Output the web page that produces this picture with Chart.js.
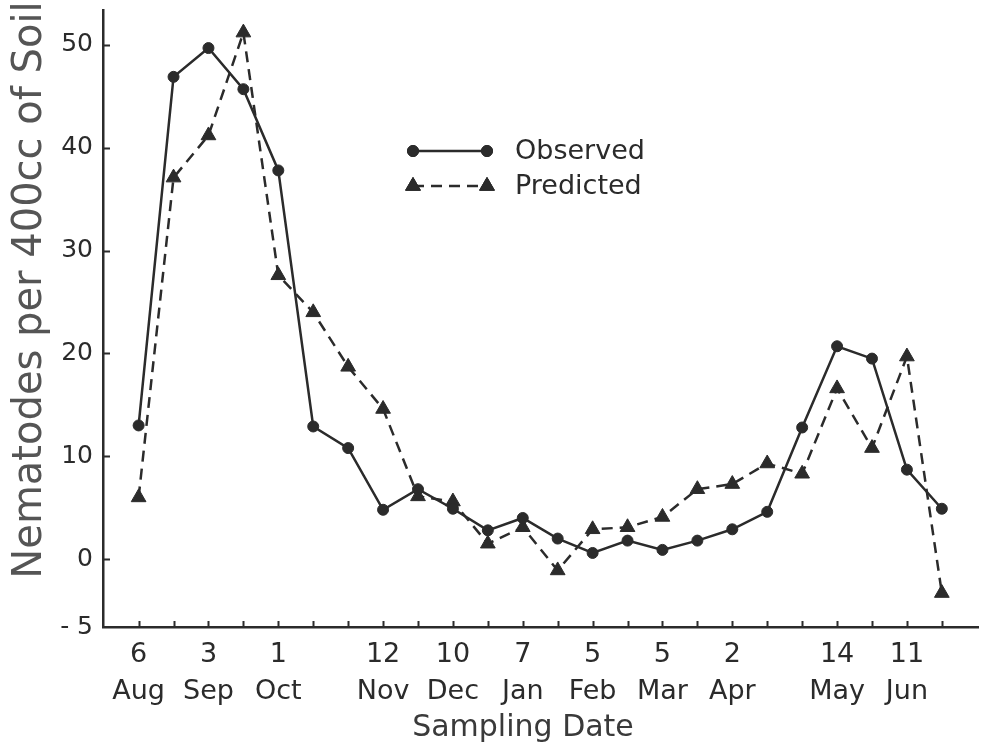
<!DOCTYPE html>
<html>
<head>
<meta charset="utf-8">
<script src="https://cdn.jsdelivr.net/npm/chart.js@4.4.1/dist/chart.umd.min.js"></script>
<style>
  html, body { margin: 0; padding: 0; background: #ffffff; }
  #wrap { width: 988px; height: 755px; }
</style>
</head>
<body>
<div id="wrap"><canvas id="c" width="988" height="755"></canvas></div>
<script>
// Sampling dates (biweekly), day and month lines of the x labels
const dayLabels   = ['6', '', '3', '', '1', '', '', '12', '', '10', '', '7', '', '5', '', '5', '', '2', '', '', '14', '', '11', ''];
const monthLabels = ['Aug', '', 'Sep', '', 'Oct', '', '', 'Nov', '', 'Dec', '', 'Jan', '', 'Feb', '', 'Mar', '', 'Apr', '', '', 'May', '', 'Jun', ''];

// Nematodes per 400cc of soil
const observed  = [13.0, 46.9, 49.7, 45.7, 37.8, 12.9, 10.8, 4.8, 6.8, 4.9, 2.8, 4.0, 2.0, 0.6, 1.8, 0.9, 1.8, 2.9, 4.6, 12.8, 20.7, 19.5, 8.7, 4.9];
const predicted = [6.0, 37.1, 41.2, 51.2, 27.6, 24.0, 18.7, 14.6, 6.1, 5.6, 1.5, 3.1, -1.1, 2.9, 3.1, 4.1, 6.8, 7.3, 9.3, 8.3, 16.6, 10.8, 19.7, -3.3];

// y axis tick values; the axis floor carries the "- 5" label
const yTicks = [0, 10, 20, 30, 40, 50];
const Y_MIN = -6.6, Y_MAX = 53.4;
const X_MIN = -1.02, X_MAX = 24.05;

const FONT = '"DejaVu Sans", "Noto Sans", sans-serif';
const INK = '#2b2b2b';

const toPoints = arr => arr.map((v, i) => ({ x: i, y: v }));

// inward tick marks, axis titles and the inset legend
const decor = {
  id: 'decor',
  afterDraw(chart) {
    const { ctx, chartArea, scales } = chart;
    const xs = scales.x, ys = scales.y;
    ctx.save();
    ctx.strokeStyle = INK;
    ctx.lineWidth = 2;
    ctx.beginPath();
    dayLabels.forEach((_, i) => {
      const px = Math.round(xs.getPixelForValue(i)) + 0.5;
      ctx.moveTo(px, chartArea.bottom);
      ctx.lineTo(px, chartArea.bottom - 6);
    });
    yTicks.forEach(v => {
      const py = Math.round(ys.getPixelForValue(v)) + 0.5;
      ctx.moveTo(chartArea.left, py);
      ctx.lineTo(chartArea.left + 7, py);
    });
    ctx.stroke();

    // axis titles
    ctx.fillStyle = '#3a3a3a';
    ctx.textAlign = 'center';
    ctx.textBaseline = 'middle';
    ctx.font = '30px ' + FONT;
    ctx.fillText('Sampling Date', chartArea.left + 420, 728);

    ctx.save();
    ctx.translate(31, 290);
    ctx.rotate(-Math.PI / 2);
    ctx.fillStyle = '#555555';
    ctx.font = '40px ' + FONT;
    ctx.fillText('Nematodes per 400cc of Soil', 0, 0);
    ctx.restore();

    // legend
    const ds = chart.data.datasets;
    const lx1 = 413, lx2 = 487, tx = 515;
    const rows = [151, 186];
    ds.forEach((d, k) => {
      const y = rows[k];
      ctx.save();
      ctx.strokeStyle = d.borderColor;
      ctx.lineWidth = d.borderWidth;
      ctx.setLineDash(d.borderDash || []);
      ctx.beginPath();
      ctx.moveTo(lx1, y);
      ctx.lineTo(lx2, y);
      ctx.stroke();
      ctx.restore();
      [lx1, lx2].forEach(px => {
        Chart.helpers.drawPoint(ctx, {
          pointStyle: d.pointStyle,
          radius: d.pointRadius,
          borderWidth: 1
        }, px, y);
      });
      ctx.fillStyle = INK;
      ctx.textAlign = 'left';
      ctx.textBaseline = 'middle';
      ctx.font = '27px ' + FONT;
      ctx.fillText(d.label, tx, y + 1);
    });
    ctx.restore();
  }
};

// drawPoint needs fill/stroke styles set on the context
const origDraw = Chart.helpers.drawPoint;
Chart.helpers.drawPoint = function (ctx, opts, x, y) {
  ctx.save();
  ctx.fillStyle = INK;
  ctx.strokeStyle = INK;
  ctx.setLineDash([]);
  ctx.lineWidth = 1;
  origDraw(ctx, opts, x, y);
  ctx.fill();
  ctx.stroke();
  ctx.restore();
};

new Chart(document.getElementById('c'), {
  type: 'line',
  data: {
    datasets: [
      {
        label: 'Observed',
        data: toPoints(observed),
        borderColor: INK,
        backgroundColor: INK,
        borderWidth: 2.5,
        pointStyle: 'circle',
        pointRadius: 5.5,
        pointBorderWidth: 1,
        pointBackgroundColor: INK,
        pointBorderColor: INK,
        tension: 0
      },
      {
        label: 'Predicted',
        data: toPoints(predicted),
        borderColor: INK,
        backgroundColor: INK,
        borderWidth: 2.5,
        borderDash: [11, 7],
        pointStyle: 'triangle',
        pointRadius: 8.5,
        pointBorderWidth: 1,
        pointBackgroundColor: INK,
        pointBorderColor: INK,
        tension: 0
      }
    ]
  },
  options: {
    responsive: false,
    animation: false,
    layout: { padding: { top: 10, right: 0, left: 0, bottom: 0 } },
    plugins: {
      legend: { display: false },
      tooltip: { enabled: false }
    },
    scales: {
      x: {
        type: 'linear',
        min: X_MIN,
        max: X_MAX,
        grid: { display: false },
        border: { display: true, color: INK, width: 2.5 },
        afterFit: s => { s.height = 128; s.paddingLeft = 0; s.paddingRight = 0; },
        afterBuildTicks: s => { s.ticks = dayLabels.map((_, i) => ({ value: i })); },
        ticks: {
          autoSkip: false,
          maxRotation: 0,
          padding: 1,
          color: INK,
          font: { family: FONT, size: 27, lineHeight: '37px' },
          callback: (v) => {
            const d = dayLabels[v], m = monthLabels[v];
            return (d || m) ? [d, m] : '';
          }
        }
      },
      y: {
        type: 'linear',
        min: Y_MIN,
        max: Y_MAX,
        grid: { display: false },
        border: { display: true, color: INK, width: 2.5 },
        afterFit: s => { s.width = 103; s.paddingTop = 0; s.paddingBottom = 0; },
        afterBuildTicks: s => { s.ticks = [Y_MIN, ...yTicks].map(v => ({ value: v })); },
        ticks: {
          padding: 2,
          color: INK,
          font: { family: FONT, size: 25 },
          callback: v => (v === Y_MIN ? '- 5' : String(v))
        }
      }
    }
  },
  plugins: [decor]
});
</script>
</body>
</html>
